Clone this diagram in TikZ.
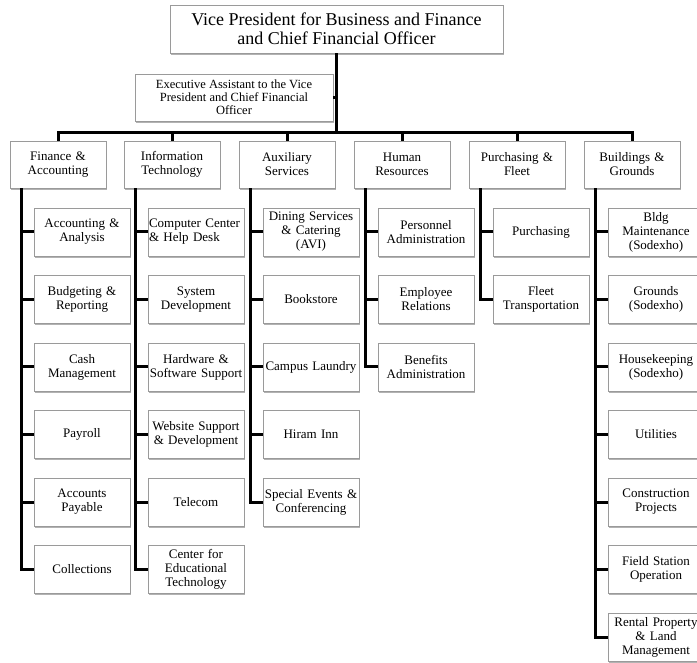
\documentclass[tikz,border=0pt]{standalone}
\usepackage{fontspec}
\setmainfont{Liberation Serif}
\usetikzlibrary{shadows}
\definecolor{boxline}{HTML}{9A9A9A}
\begin{document}
\begin{tikzpicture}[x=1pt,y=-1pt,
  box/.style={draw=boxline, line width=0.9pt, fill=white,
    drop shadow={shadow xshift=1.2pt, shadow yshift=-1.6pt, opacity=0.3, fill=black},
    align=center, inner sep=1pt, font=\fontsize{13}{14}\selectfont},
  dept/.style={box, minimum width=96pt, minimum height=47pt, text width=92pt},
  unit/.style={box, minimum width=96pt, minimum height=48pt, text width=94pt},
  link/.style={line width=3pt, line join=miter}]
\useasboundingbox (0,0) rectangle (697,663);

% head of the division and assistant
\node[box, minimum width=333pt, minimum height=48pt, font=\fontsize{18}{19}\selectfont]
  (vp) at (336.5,29) {Vice President for Business and Finance\\and Chief Financial Officer};
\node[box, minimum width=198pt, minimum height=47pt, font=\fontsize{12.5}{13}\selectfont]
  (ea) at (234,97.5) {Executive Assistant to the Vice\\President and Chief Financial\\Officer};
\coordinate (bus) at (336.5,133);

% departments
\node[dept] (d1) at (58,164.5)  {Finance \&\\Accounting};
\node[dept] (d2) at (172,164.5) {Information\\Technology};
\node[dept] (d3) at (287,164.5) {Auxiliary\\Services};
\node[dept] (d4) at (402,164.5) {Human\\Resources};
\node[dept] (d5) at (517,164.5) {Purchasing \&\\Fleet};
\node[dept] (d6) at (632,164.5) {Buildings \&\\Grounds};

\draw[link] (vp.south) -- (bus);
\draw[link] (ea.east) -- (ea.east -| bus);
\draw[link] (d1.north) -- (d1.north |- bus) -- (d6.north |- bus) -- (d6.north);
\foreach \d in {d2,d3,d4,d5}
  \draw[link] (\d.north) -- (\d.north |- bus);

% trunk lines below each department
\foreach \d in {1,...,6}
  \coordinate (t\d) at ([xshift=-37pt]d\d.south);

% units
\foreach \i/\txt in {1/{Accounting \&\\Analysis}, 2/{Budgeting \&\\Reporting},
    3/{Cash\\Management}, 4/{Payroll}, 5/{Accounts\\Payable}, 6/{Collections}}
  \node[unit] (a\i) at (82,{232+67.5*(\i-1)}) {\txt};

\node[unit, align=left] (b1) at (196,232) {Computer Center\\\& Help Desk};
\foreach \i/\txt in {2/{System\\Development}, 3/{Hardware \&\\Software Support},
    4/{Website Support\\\& Development}, 5/{Telecom},
    6/{Center for\\Educational\\Technology}}
  \node[unit] (b\i) at (196,{232+67.5*(\i-1)}) {\txt};

\foreach \i/\txt in {1/{Dining Services\\\& Catering\\(AVI)}, 2/{Bookstore},
    3/{Campus Laundry}, 4/{Hiram Inn}, 5/{Special Events \&\\Conferencing}}
  \node[unit] (c\i) at (311,{232+67.5*(\i-1)}) {\txt};

\foreach \i/\txt in {1/{Personnel\\Administration}, 2/{Employee\\Relations},
    3/{Benefits\\Administration}}
  \node[unit] (e\i) at (426,{232+67.5*(\i-1)}) {\txt};

\foreach \i/\txt in {1/{Purchasing}, 2/{Fleet\\Transportation}}
  \node[unit] (p\i) at (541,{232+67.5*(\i-1)}) {\txt};

\foreach \i/\txt in {1/{Bldg\\Maintenance\\(Sodexho)}, 2/{Grounds\\(Sodexho)},
    3/{Housekeeping\\(Sodexho)}, 4/{Utilities}, 5/{Construction\\Projects},
    6/{Field Station\\Operation}, 7/{Rental Property\\\& Land\\Management}}
  \node[unit] (g\i) at (656,{232+67.5*(\i-1)}) {\txt};

% connectors from trunks to units
\draw[link] (t1) |- (a6.west);
\foreach \i in {1,...,5} \draw[link] (a\i.west -| t1) -- (a\i.west);
\draw[link] (t2) |- (b6.west);
\foreach \i in {1,...,5} \draw[link] (b\i.west -| t2) -- (b\i.west);
\draw[link] (t3) |- (c5.west);
\foreach \i in {1,...,4} \draw[link] (c\i.west -| t3) -- (c\i.west);
\draw[link] (t4) |- (e3.west);
\foreach \i in {1,2} \draw[link] (e\i.west -| t4) -- (e\i.west);
\draw[link] (t5) |- (p2.west);
\draw[link] (p1.west -| t5) -- (p1.west);
\draw[link] (t6) |- (g7.west);
\foreach \i in {1,...,6} \draw[link] (g\i.west -| t6) -- (g\i.west);
\end{tikzpicture}
\end{document}
